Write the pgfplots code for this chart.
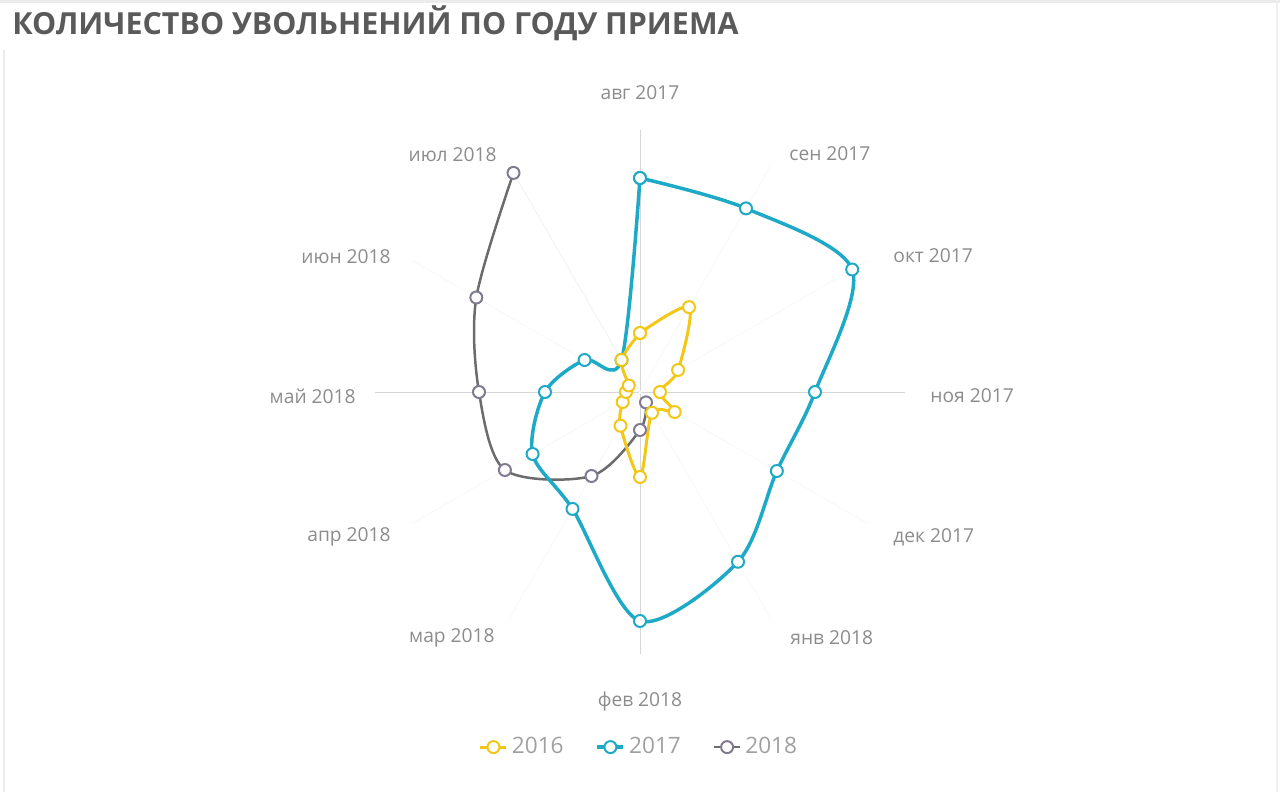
\documentclass[border=0pt]{standalone}
\usepackage{pgfplots}
\pgfplotsset{compat=1.18}
\usepgfplotslibrary{polar}
\usepackage{fontspec}
\setmainfont{Open Sans}
\definecolor{c16}{RGB}{242,199,22}
\definecolor{c17}{RGB}{30,170,198}
\definecolor{c18}{RGB}{108,108,110}
\definecolor{c18m}{RGB}{130,122,145}
\definecolor{lbl}{RGB}{140,140,140}
\definecolor{lgd}{RGB}{160,160,160}
\definecolor{ttl}{RGB}{90,90,90}
\begin{document}
\begin{tikzpicture}
\path[use as bounding box] (0,0) rectangle (640pt,-396pt);
\draw[black!8, line width=1pt] (2pt,-25pt) -- (2pt,-396pt);
\draw[black!8, line width=1.5pt] (0pt,-0.8pt) -- (640pt,-0.8pt);
\draw[black!6, line width=1pt] (638.6pt,0pt) -- (638.6pt,-396pt);
\begin{polaraxis}[
  at={(320pt,-196pt)}, anchor=center,
  scale only axis, width=265pt, height=265pt,
  ymin=0, ymax=26.5,
  hide axis, clip=false,
  reverse legend,
  legend columns=-1,
  legend style={at={(0.5,-0.17)}, anchor=center, draw=none, fill=none,
    font=\fontsize{11.3}{13}\selectfont, text=lgd,
    /tikz/every even column/.append style={column sep=14pt}},
  legend image code/.code={\draw[mark repeat=2,mark phase=2] plot coordinates {(0pt,0pt) (6.5pt,0pt) (13pt,0pt)};},
]
\draw[black!16] (axis cs:90,0) -- (axis cs:90,26.2);
\draw[black!16] (axis cs:-90,0) -- (axis cs:-90,26.2);
\draw[black!16] (axis cs:0,0) -- (axis cs:0,26.5);
\draw[black!16] (axis cs:180,0) -- (axis cs:180,26.5);
\draw[black!3] (axis cs:60,0) -- (axis cs:60,26.2);
\draw[black!3] (axis cs:30,0) -- (axis cs:30,26.2);
\draw[black!3] (axis cs:-30,0) -- (axis cs:-30,26.2);
\draw[black!3] (axis cs:-60,0) -- (axis cs:-60,26.2);
\draw[black!3] (axis cs:-120,0) -- (axis cs:-120,26.2);
\draw[black!3] (axis cs:-150,0) -- (axis cs:-150,26.2);
\draw[black!3] (axis cs:150,0) -- (axis cs:150,26.2);
\draw[black!6] (axis cs:120,0) -- (axis cs:120,26.2);

% 2018
\addplot[c18, line width=1.25pt, smooth, tension=0.5, mark=*, mark size=3pt,
  mark options={fill=white, draw=c18m, line width=1pt}]
  coordinates {(-60,1.2) (-90,3.8) (-120,9.7) (-150,15.6) (-180,16.1) (-210,18.9) (-240,25.3)};
\addlegendentry{2018}
% 2017
\addplot[c17, line width=1.75pt, smooth, tension=0.5, mark=*, mark size=3pt,
  mark options={fill=white, draw=c17, line width=1pt}]
  coordinates {(90,21.4) (60,21.2) (30,24.5) (0,17.5) (-30,15.8) (-60,19.6) (-90,22.9) (-120,13.5) (-150,12.4) (-180,9.5) (-210,6.4) (-240,3.7) (-270,21.4)};
\addlegendentry{2017}
% 2016
\addplot[c16, line width=1.5pt, smooth, tension=0.5, mark=*, mark size=3pt,
  mark options={fill=white, draw=c16, line width=1pt}]
  coordinates {(90,5.9) (60,9.8) (30,4.4) (0,2.0) (-30,4.0) (-60,2.4) (-90,8.5) (-120,3.9) (-150,2.0) (-180,1.4) (-210,1.3) (-240,3.7) (-270,5.9)};
\addlegendentry{2016}
\end{polaraxis}
\begin{scope}[x=0.5pt, y=-0.5pt, every node/.style={inner sep=0pt, text=lbl, font=\fontsize{9.6}{11}\selectfont}]
\node[anchor=center] at (640,93) {авг 2017};
\node[anchor=west] at (789,154) {сен 2017};
\node[anchor=west] at (893,256) {окт 2017};
\node[anchor=west] at (930,396) {ноя 2017};
\node[anchor=west] at (893,537) {дек 2017};
\node[anchor=west] at (790,638) {янв 2018};
\node[anchor=center] at (640,702) {фев 2018};
\node[anchor=east] at (495,638) {мар 2018};
\node[anchor=east] at (391,537) {апр 2018};
\node[anchor=east] at (356,396) {май 2018};
\node[anchor=east] at (391,257) {июн 2018};
\node[anchor=east] at (497,155) {июл 2018};
\node[anchor=west, text=ttl, font=\fontsize{15.2}{17}\bfseries\selectfont] at (12,23) {КОЛИЧЕСТВО УВОЛЬНЕНИЙ ПО ГОДУ ПРИЕМА};
\end{scope}
\end{tikzpicture}
\end{document}
